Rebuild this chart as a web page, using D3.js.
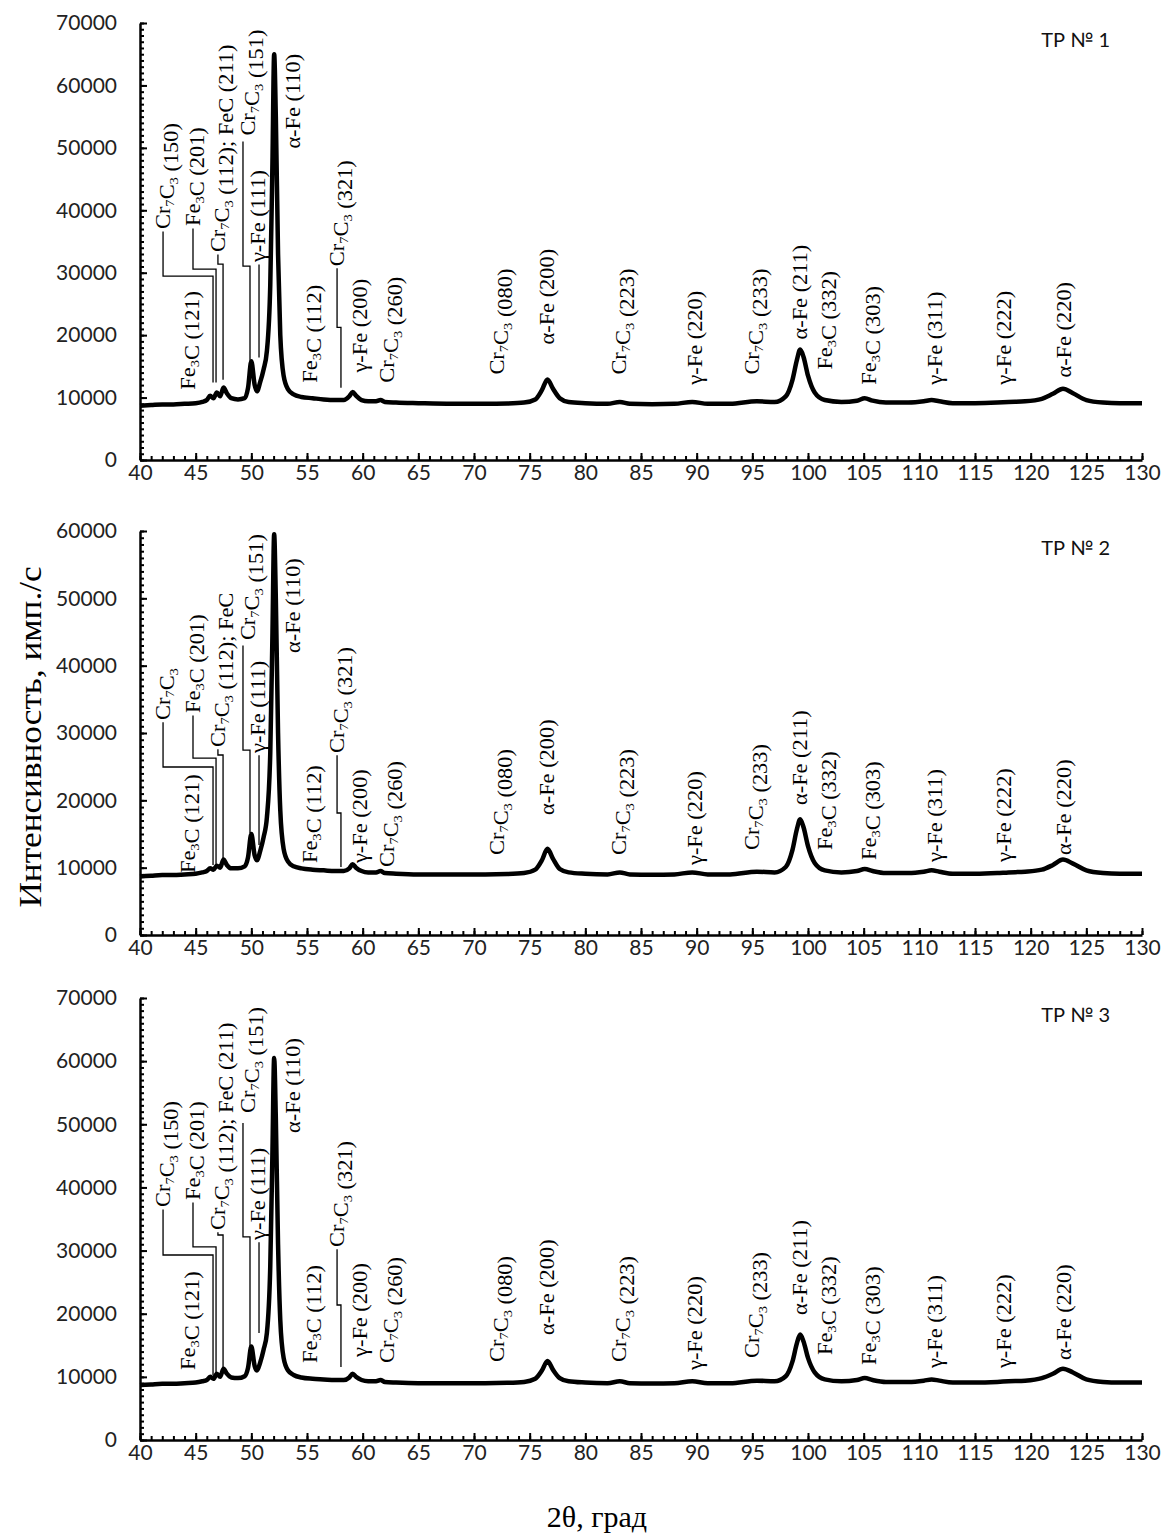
<!DOCTYPE html>
<html>
<head>
<meta charset="utf-8">
<script src="https://cdn.jsdelivr.net/npm/d3@7"></script>
<style>
  body { margin: 0; background: #fff; }
  .lbl { font-family: "Liberation Serif", "Times New Roman", serif; font-size: 20px; fill: #000; }
</style>
</head>
<body>
<svg></svg>
<script>
const angles = [40, 41, 42, 43, 44, 45, 45.6, 46.0, 46.3, 46.6, 46.9, 47.2, 47.5, 47.8, 48.2, 48.8, 49.4, 49.7,
  50.0, 50.3, 50.5, 50.8, 51.1, 51.4, 51.7, 51.9, 52.05, 52.2, 52.4, 52.6, 52.9, 53.3, 53.8, 54.5, 55.5, 56.5,
  57.5, 58.3, 58.8, 59.1, 59.4, 59.9, 60.5, 61.2, 61.6, 62.0, 63, 65, 68, 71, 73, 74.5, 75.5, 76.1, 76.6, 77.1,
  77.7, 78.5, 80, 82, 83.1, 84, 86, 88, 89.6, 91, 93, 95.4, 97, 98.0, 98.6, 99.0, 99.3, 99.6, 100.0, 100.6,
  101.5, 103, 104.4, 105.1, 105.8, 107, 109, 110.4, 111.1, 111.8, 113, 115, 117, 118, 119.5, 121, 122, 122.9,
  123.8, 125, 126.5, 128, 130];

const tp1 = [8700, 8800, 8900, 8900, 9000, 9100, 9300, 9600, 10300, 9900, 10800, 10200, 11600, 10700, 9900, 9700, 9900, 11500,
  15800, 12000, 11000, 12500, 14500, 17500, 28000, 48000, 65000, 55000, 33000, 20000, 13500, 11300, 10500, 10100, 9900, 9700,
  9600, 9600, 10200, 10900, 10300, 9600, 9400, 9400, 9600, 9300, 9200, 9100, 9000, 9000, 9050, 9200, 9700, 11200, 12900, 11400,
  9900, 9300, 9100, 9000, 9300, 9000, 8950, 9000, 9300, 9000, 9000, 9400, 9300, 10200, 12800, 16000, 17700, 16500, 13500, 10800,
  9600, 9300, 9500, 9900, 9500, 9200, 9200, 9400, 9600, 9400, 9100, 9100, 9200, 9300, 9400, 9800, 10600, 11400,
  10700, 9600, 9200, 9100, 9100];

const tp2 = [8700, 8800, 8900, 8900, 9000, 9100, 9300, 9500, 9900, 9700, 10300, 10000, 11200, 10400, 9900, 9900, 10200, 11500,
  15000, 11800, 11100, 12500, 14500, 17500, 27000, 45000, 59500, 50000, 30000, 18500, 12800, 10900, 10200, 9900, 9700, 9600,
  9500, 9500, 9900, 10500, 10000, 9500, 9300, 9300, 9500, 9200, 9100, 9000, 9000, 9000, 9050, 9200, 9700, 11100, 12800, 11300,
  9800, 9300, 9100, 9000, 9300, 9000, 8950, 9000, 9300, 9000, 9000, 9400, 9300, 10100, 12600, 15700, 17200, 16000, 13200, 10700,
  9600, 9300, 9500, 9800, 9500, 9200, 9200, 9400, 9600, 9400, 9100, 9100, 9200, 9300, 9400, 9700, 10400, 11200,
  10600, 9600, 9200, 9100, 9100];

const tp3 = [8700, 8800, 8900, 8900, 9000, 9100, 9300, 9500, 10000, 9700, 10500, 10000, 11300, 10500, 9900, 9800, 10100, 11400,
  14800, 11700, 11000, 12300, 14300, 17000, 27500, 46000, 60500, 51000, 31000, 19000, 13000, 11000, 10300, 9900, 9700, 9600,
  9500, 9500, 9900, 10500, 10000, 9500, 9300, 9300, 9500, 9200, 9100, 9000, 9000, 9000, 9050, 9200, 9700, 11000, 12500, 11100,
  9800, 9300, 9100, 9000, 9300, 9000, 8950, 9000, 9300, 9000, 9000, 9400, 9300, 10100, 12400, 15300, 16700, 15600, 13000, 10700,
  9600, 9300, 9500, 9800, 9500, 9200, 9200, 9400, 9600, 9400, 9100, 9100, 9200, 9300, 9400, 9800, 10500, 11300,
  10700, 9600, 9200, 9100, 9100];

const panelNames = ["ТР № 1", "ТР № 2", "ТР № 3"];
const yMaxima = [70000, 60000, 70000];
const xTickValues = d3.range(40, 131, 5);

// peak labels: [text ("_n" = subscript), 2θ of text, intensity at text start, leader line points]
const labels1 = [
  ["Cr_7C_3 (150)", 42.07, 37000, [[42.07, 36600], [42.07, 29450], [46.56, 29450], [46.56, 12400]]],
  ["Fe_3C (201)", 44.76, 37500, [[44.76, 37100], [44.76, 30570], [46.83, 30570], [46.83, 12400]]],
  ["Cr_7C_3 (112); FeC (211)", 47.0, 33300, [[47.0, 32900], [47.0, 31380], [47.46, 31380], [47.46, 12870]]],
  ["Cr_7C_3 (151)", 49.7, 51970, [[49.25, 51000], [49.25, 31050], [49.88, 31050], [49.88, 15900]]],
  ["γ-Fe (111)", 50.6, 31700, [[50.69, 31300], [50.69, 16400]]],
  ["α-Fe (110)", 53.74, 49880, null],
  ["Fe_3C (121)", 44.31, 11260, null],
  ["Fe_3C (112)", 55.27, 12390, null],
  ["Cr_7C_3 (321)", 57.7, 31050, [[57.7, 30700], [57.7, 21240], [58.05, 21240], [58.05, 11580]]],
  ["γ-Fe (200)", 59.76, 14000, null],
  ["Cr_7C_3 (260)", 62.19, 12390, null],
  ["Cr_7C_3 (080)", 72.1, 13680, null],
  ["α-Fe (200)", 76.6, 18500, null],
  ["Cr_7C_3 (223)", 83.1, 13680, null],
  ["γ-Fe (220)", 89.9, 12070, null],
  ["Cr_7C_3 (233)", 95.0, 13680, null],
  ["α-Fe (211)", 99.3, 19300, null],
  ["Fe_3C (332)", 101.6, 14480, null],
  ["Fe_3C (303)", 105.5, 12070, null],
  ["γ-Fe (311)", 111.4, 12070, null],
  ["γ-Fe (222)", 117.6, 12070, null],
  ["α-Fe (220)", 123.0, 13200, null]
];

const labels2 = [
  ["Cr_7C_3", 42.07, 31930, [[42.07, 31600], [42.07, 24950], [46.56, 24950], [46.56, 10400]]],
  ["Fe_3C (201)", 44.76, 32970, [[44.76, 32600], [44.76, 26280], [46.83, 26280], [46.83, 10400]]],
  ["Cr_7C_3 (112); FeC", 47.0, 27920, [[47.0, 27600], [47.0, 26730], [47.46, 26730], [47.46, 11140]]],
  ["Cr_7C_3 (151)", 49.7, 43800, [[49.25, 43000], [49.25, 27470], [49.88, 27470], [49.88, 15150]]],
  ["γ-Fe (111)", 50.6, 27030, [[50.69, 26700], [50.69, 13360]]],
  ["α-Fe (110)", 53.74, 41880, null],
  ["Fe_3C (121)", 44.31, 9200, null],
  ["Fe_3C (112)", 55.27, 10690, null],
  ["Cr_7C_3 (321)", 57.7, 27030, [[57.7, 26700], [57.7, 18120], [58.05, 18120], [58.05, 10100]]],
  ["γ-Fe (200)", 59.76, 10690, null],
  ["Cr_7C_3 (260)", 62.19, 10100, null],
  ["Cr_7C_3 (080)", 72.1, 11880, null],
  ["α-Fe (200)", 76.6, 17820, null],
  ["Cr_7C_3 (223)", 83.1, 11880, null],
  ["γ-Fe (220)", 89.9, 10400, null],
  ["Cr_7C_3 (233)", 95.0, 12620, null],
  ["α-Fe (211)", 99.3, 19300, null],
  ["Fe_3C (332)", 101.6, 12620, null],
  ["Fe_3C (303)", 105.5, 11140, null],
  ["γ-Fe (311)", 111.4, 10840, null],
  ["γ-Fe (222)", 117.6, 10840, null],
  ["α-Fe (220)", 123.0, 11880, null]
];

const labels3 = [
  ["Cr_7C_3 (150)", 42.07, 36900, [[42.07, 36500], [42.07, 29300], [46.56, 29300], [46.56, 10300]]],
  ["Fe_3C (201)", 44.76, 38020, [[44.76, 37600], [44.76, 30570], [46.83, 30570], [46.83, 10300]]],
  ["Cr_7C_3 (112); FeC (211)", 47.0, 33260, [[47.0, 32900], [47.0, 32470], [47.46, 32470], [47.46, 10900]]],
  ["Cr_7C_3 (151)", 49.7, 51800, [[49.25, 50200], [49.25, 32160], [49.88, 32160], [49.88, 13800]]],
  ["γ-Fe (111)", 50.6, 31680, [[50.69, 31300], [50.69, 16950]]],
  ["α-Fe (110)", 53.74, 48630, null],
  ["Fe_3C (121)", 44.31, 11090, null],
  ["Fe_3C (112)", 55.27, 12200, null],
  ["Cr_7C_3 (321)", 57.7, 30570, [[57.7, 30200], [57.7, 21380], [58.05, 21380], [58.05, 11560]]],
  ["γ-Fe (200)", 59.76, 13150, null],
  ["Cr_7C_3 (260)", 62.19, 12200, null],
  ["Cr_7C_3 (080)", 72.1, 12360, null],
  ["α-Fe (200)", 76.6, 16630, null],
  ["Cr_7C_3 (223)", 83.1, 12360, null],
  ["γ-Fe (220)", 89.9, 11090, null],
  ["Cr_7C_3 (233)", 95.0, 13000, null],
  ["α-Fe (211)", 99.3, 19800, null],
  ["Fe_3C (332)", 101.6, 13460, null],
  ["Fe_3C (303)", 105.5, 11880, null],
  ["γ-Fe (311)", 111.4, 11400, null],
  ["γ-Fe (222)", 117.6, 11400, null],
  ["α-Fe (220)", 123.0, 12670, null]
];

const series = [tp1, tp2, tp3];
const labelSets = [labels1, labels2, labels3];

const width = 1163, height = 1537;
const svg = d3.select("svg").attr("width", width).attr("height", height);

// pixel frames of the three plot areas
const frames = [
  { top: 23, bottom: 460 },
  { top: 531, bottom: 935 },
  { top: 998, bottom: 1440 }
];

const x = d3.scaleLinear().domain([40, 130]).range([140, 1142]);

frames.forEach(function(f, i) {
  const y = d3.scaleLinear().domain([0, yMaxima[i]]).range([f.bottom, f.top]);
  const g = svg.append("g");

  // minor ticks
  g.append("g")
    .attr("transform", "translate(140,0)")
    .call(d3.axisLeft(y).tickValues(d3.range(0, yMaxima[i] + 1, 1000)).tickSizeInner(-4).tickSizeOuter(0).tickFormat(""))
    .call(a => a.select(".domain").remove())
    .call(a => a.selectAll("line").attr("stroke", "#000").attr("stroke-width", 2));
  g.append("g")
    .attr("transform", "translate(0," + f.bottom + ")")
    .call(d3.axisBottom(x).tickValues(d3.range(40, 131, 1)).tickSizeInner(-4).tickSizeOuter(0).tickFormat(""))
    .call(a => a.select(".domain").remove())
    .call(a => a.selectAll("line").attr("stroke", "#000").attr("stroke-width", 2));

  // major ticks + labels
  g.append("g")
    .attr("transform", "translate(140,0)")
    .call(d3.axisLeft(y).tickValues(d3.range(0, yMaxima[i] + 1, 10000)).tickSizeInner(-7).tickSizeOuter(0)
      .tickPadding(23).tickFormat(d3.format("d")))
    .call(a => a.select(".domain").attr("stroke", "#000").attr("stroke-width", 2.5))
    .call(a => a.selectAll("line").attr("stroke", "#000").attr("stroke-width", 2));
  g.append("g")
    .attr("transform", "translate(0," + f.bottom + ")")
    .call(d3.axisBottom(x).tickValues(xTickValues).tickSizeInner(-7).tickSizeOuter(0).tickPadding(5))
    .call(a => a.select(".domain").attr("stroke", "#000").attr("stroke-width", 2.5))
    .call(a => a.selectAll("line").attr("stroke", "#000").attr("stroke-width", 2));
  g.selectAll(".tick text").attr("fill", "#222").style("font-family", "Lato, sans-serif").style("font-size", "21px");

  // pattern
  const pts = angles.map((a, k) => [a, series[i][k]]);
  g.append("path")
    .datum(pts)
    .attr("fill", "none")
    .attr("stroke", "#000")
    .attr("stroke-width", 4.5)
    .attr("stroke-linejoin", "round")
    .attr("d", d3.line().x(d => x(d[0])).y(d => y(d[1])).curve(d3.curveMonotoneX));

  // leader lines
  const leader = d3.line().x(d => x(d[0])).y(d => y(d[1]));
  g.selectAll(".leader")
    .data(labelSets[i].filter(d => d[3]))
    .enter()
    .append("path")
    .attr("class", "leader")
    .attr("fill", "none")
    .attr("stroke", "#000")
    .attr("stroke-width", 1.3)
    .attr("d", d => leader(d[3]));

  // rotated peak labels, a little stretched along the reading direction like the original
  const lbl = g.selectAll(".lbl")
    .data(labelSets[i])
    .enter()
    .append("text")
    .attr("class", "lbl")
    .attr("transform", d => "translate(" + x(d[1]) + "," + y(d[2]) + ") rotate(-90) scale(1.12,1)")
    .attr("dy", "0.33em");
  lbl.each(function(d) {
    const t = d3.select(this);
    const parts = d[0].split(/_(\d)/);
    parts.forEach(function(p, k) {
      if (!p) return;
      if (k % 2 === 1) {
        t.append("tspan").attr("font-size", "13px").attr("dy", "4").text(p);
        t.append("tspan").attr("dy", "-4").text("");
      } else {
        t.append("tspan").text(p);
      }
    });
  });

  g.append("text")
    .attr("x", 1110)
    .attr("y", f.top + 24)
    .attr("text-anchor", "end")
    .style("font-family", "Lato, sans-serif")
    .style("font-size", "20px")
    .attr("fill", "#111")
    .text(panelNames[i]);
});

svg.append("text")
  .attr("transform", "translate(41,737) rotate(-90) scale(1.1,1)")
  .attr("text-anchor", "middle")
  .style("font-family", "'Liberation Serif', serif")
  .style("font-size", "32px")
  .text("Интенсивность, имп./с");

svg.append("text")
  .attr("x", 597)
  .attr("y", 1527)
  .attr("text-anchor", "middle")
  .style("font-family", "'Liberation Serif', serif")
  .style("font-size", "30px")
  .text("2θ, град");
</script>
</body>
</html>
